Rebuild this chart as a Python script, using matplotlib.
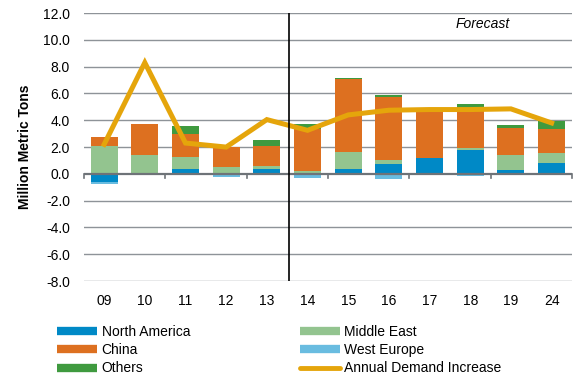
import matplotlib
matplotlib.use('Agg')
import matplotlib.pyplot as plt
import numpy as np
from matplotlib.lines import Line2D

plt.rcParams['font.family'] = ['Liberation Sans', 'DejaVu Sans']

years = ['09', '10', '11', '12', '13', '14', '15', '16', '17', '18', '19', '24']
north_america = [-0.6, 0.05, 0.35, 0.0, 0.35, 0.0, 0.35, 0.75, 1.2, 1.8, 0.3, 0.8]
middle_east = [2.05, 1.35, 0.9, 0.5, 0.25, 0.2, 1.3, 0.3, 0.0, 0.1, 1.1, 0.75]
china = [0.7, 2.3, 1.75, 1.5, 1.5, 3.15, 5.4, 4.7, 3.4, 3.0, 2.0, 1.8]
others = [0.0, 0.05, 0.6, 0.0, 0.4, 0.35, 0.1, 0.1, 0.0, 0.3, 0.25, 0.6]
west_europe = [-0.15, 0.0, 0.0, -0.25, -0.05, -0.3, 0.0, -0.4, 0.0, -0.15, 0.0, 0.0]
annual_increase = [2.2, 8.3, 2.3, 2.0, 4.05, 3.25, 4.4, 4.75, 4.8, 4.8, 4.85, 3.8]

c_na = '#0089C6'
c_china = '#DD7020'
c_others = '#3F9A3F'
c_me = '#93C48F'
c_we = '#69BCE0'
c_line = '#E5A50B'

fig = plt.figure(figsize=(5.86, 3.84), dpi=100)
ax = fig.add_axes([0.143, 0.268, 0.833, 0.698])

x = np.arange(len(years))
w = 0.66
na = np.array(north_america)
me = np.array(middle_east)
ch = np.array(china)
ot = np.array(others)
we = np.array(west_europe)

# stack positives upward and negatives downward
pos_base = np.zeros(len(x))
neg_base = np.zeros(len(x))
for vals, col in [(na, c_na), (me, c_me), (ch, c_china), (ot, c_others), (we, c_we)]:
    p = np.where(vals > 0, vals, 0)
    n = np.where(vals < 0, vals, 0)
    ax.bar(x, p, w, bottom=pos_base, color=col, zorder=3)
    ax.bar(x, n, w, bottom=neg_base, color=col, zorder=3)
    pos_base += p
    neg_base += n

ax.plot(x, annual_increase, color=c_line, lw=3.6, zorder=4, solid_joinstyle='miter')

ax.set_ylim(-8, 12)
ax.set_xlim(-0.5, 11.5)
yt = np.arange(-8, 12.1, 2)
ax.set_yticks(yt)
ax.set_yticklabels(['%.1f' % v for v in yt], fontsize=10)
for v in yt:
    if v != 0:
        ax.axhline(v, color='#8E9398', lw=1.0, zorder=1)
ax.axhline(0, color='#6E7378', lw=1.6, zorder=5)
for t in np.arange(-0.5, 11.6, 2):
    ax.plot([t, t], [0, -0.3], color='#6E7378', lw=1.2, zorder=5, clip_on=False)

ax.set_xticks(x)
ax.set_xticklabels(years, fontsize=10)
ax.tick_params(axis='y', length=0, pad=10)
ax.tick_params(axis='x', length=0, pad=9)
for s in ax.spines.values():
    s.set_visible(False)

ax.axvline(4.55, color='black', lw=1.2, zorder=6)
ax.text(9.3, 11.2, 'Forecast', fontsize=10, style='italic', ha='center', va='center')
ax.set_ylabel('Million Metric Tons', fontsize=10, fontweight='bold', labelpad=8)

handles = [Line2D([], [], color=c, lw=6, solid_capstyle='butt') for c in
           [c_na, c_china, c_others, c_me, c_we]]
handles.append(Line2D([], [], color=c_line, lw=3.5, solid_capstyle='round'))
labels = ['North America', 'China', 'Others', 'Middle East', 'West Europe',
          'Annual Demand Increase']
fig.legend(handles, labels, ncol=2, loc='upper left', bbox_to_anchor=(0.088, 0.168),
           frameon=False, fontsize=10, handlelength=2.9, handletextpad=0.3,
           columnspacing=7.9, labelspacing=0.3, borderaxespad=0)

fig.savefig('out.png', dpi=100)
